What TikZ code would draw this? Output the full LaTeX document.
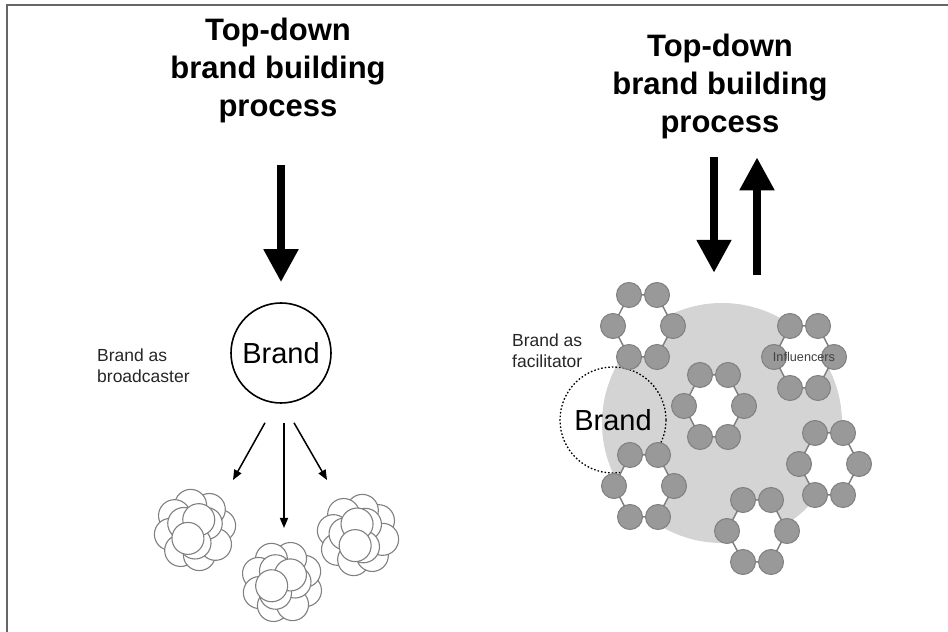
\documentclass[tikz,border=0pt]{standalone}
\usepackage{fontspec}
\setmainfont{Liberation Sans}
\usetikzlibrary{arrows.meta}

\begin{document}
\begin{tikzpicture}[x=1pt,y=1pt]
\begin{scope}

\tikzstyle{title} = [align=center,inner sep=0pt,font=\fontsize{31}{38}\selectfont\bfseries];
\tikzstyle{brand} = [circle,minimum size=100pt,inner sep=0pt,draw,line width=1.6pt,font=\fontsize{29}{30}\selectfont];
\tikzstyle{role} = [align=left,inner sep=0pt,text=black!85,font=\fontsize{17.5}{21}\selectfont];
\tikzstyle{bigarrow} = [line width=8pt,-{Triangle[length=33pt,width=33pt]}];
\tikzstyle{thinarrow} = [line width=1.5pt,-{Triangle[length=10pt,width=8pt]}];
\tikzstyle{bubble} = [draw=black!50,line width=1.1pt,fill=white];
\tikzstyle{member} = [circle,minimum size=25pt,inner sep=0pt,draw=black!50,line width=1pt,fill=black!40];
\tikzstyle{link} = [draw=black!50,line width=1.5pt,fill=white];

\useasboundingbox (0,0) rectangle (948,632);
\draw [black!60,line width=2pt] (7,0) -- (7,627) -- (948,627);

\node [title,anchor=north] (title1) at (278,614) {Top-down\\brand building\\process};
\node [brand] (brand1) at (281,279) {Brand};
\node [role,anchor=north west] (role1) at (97,283) {Brand as\\broadcaster};

\draw [bigarrow] ([xshift=3pt,yshift=-42pt]title1.south) -- ([yshift=20pt]brand1.north);

\coordinate (crowd1) at (195,102);
\coordinate (crowd2) at (282,50);
\coordinate (crowd3) at (358,97);

\foreach \c/\r in {crowd1/10,crowd2/-20,crowd3/35} {
  \begin{scope}[shift={(\c)},rotate=\r]
    \foreach \a in {0,45,...,315} \draw [bubble] (\a:25) circle (16);
    \foreach \a in {20,140,260} \draw [bubble] (\a:13) circle (16);
    \foreach \a in {60,220} \draw [bubble] (\a:11) circle (16);
  \end{scope}
}

\draw [thinarrow] ([xshift=-16pt,yshift=-19pt]brand1.south) -- ([xshift=38pt,yshift=50pt]crowd1);
\draw [thinarrow] ([xshift=3pt,yshift=-19pt]brand1.south) -- ([xshift=2pt,yshift=54pt]crowd2);
\draw [thinarrow] ([xshift=13pt,yshift=-19pt]brand1.south) -- ([xshift=-31pt,yshift=55pt]crowd3);

\node [title,anchor=north] (title2) at (720,598) {Top-down\\brand building\\process};
\node [circle,minimum size=240pt,inner sep=0pt,fill=black!17] (community) at (722,209) {};

\draw [bigarrow] ([xshift=-6pt,yshift=-18pt]title2.south) -- ([xshift=-8pt,yshift=30pt]community.north);
\draw [bigarrow] ([xshift=35pt,yshift=28pt]community.north) -- ([xshift=37pt,yshift=-18pt]title2.south);

\node [brand,dotted,line width=1.3pt,minimum size=106pt] (brand2) at (613,212) {Brand};
\node [role,anchor=north west] (role2) at (512,298) {Brand as\\facilitator};

\foreach \n/\cx/\cy in {r1/643/306,r2/804/275,r3/714/226,r4/644/146,r5/829/168,r6/757/101} {
  \coordinate (\n) at (\cx,\cy);
  \foreach \k/\dx/\dy in {1/-14/31,2/14/31,3/30/0,4/14/-31,5/-14/-31,6/-30/0}
    \coordinate (\n-\k) at ([xshift=\dx pt,yshift=\dy pt]\n);
  \draw [link] (\n-1) -- (\n-2) -- (\n-3) -- (\n-4) -- (\n-5) -- (\n-6) -- cycle;
  \foreach \k in {1,...,6}
    \node [member] (\n-m\k) at (\n-\k) {};
}

\node [text=black!75,inner sep=0pt,font=\fontsize{12.7}{14}\selectfont] (influencers) at (r2) {Influencers};

\end{scope}
\end{tikzpicture}
\end{document}
